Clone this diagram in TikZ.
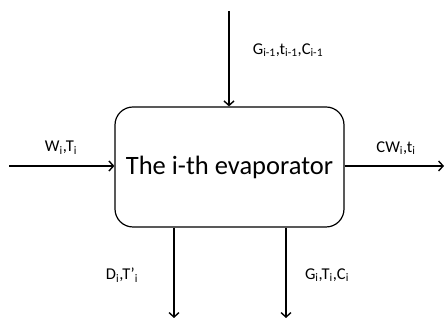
\documentclass[tikz,border=0pt]{standalone}
\usepackage{fontspec}
\setmainfont{Carlito}
\usetikzlibrary{arrows.meta}
\tikzset{
    flow/.style={line width=1.4pt, -{Straight Barb[length=4.5pt,width=10pt,line width=1.4pt]}},
    lbl/.style={font=\fontsize{16.5}{18}\selectfont, inner sep=0pt}
}
\begin{document}
\begin{tikzpicture}[x=1pt, y=1pt]
    \useasboundingbox (0,0) rectangle (445,320);

    % 蒸发器
    \node[draw, line width=1.2pt, rounded corners=18pt, minimum width=229pt, minimum height=120pt,
          font=\fontsize{26.5}{30}\selectfont] (evap) at (229.5,153) {The i-th evaporator};

    % 进出口端点
    \coordinate (topin) at (229,309);
    \coordinate (leftin) at (9,154);
    \coordinate (rightout) at (444,154);
    \coordinate (vapout) at (174,2);
    \coordinate (liqout) at (286,2);

    % 物流
    \draw[flow] (topin) -- (topin |- evap.north);
    \draw[flow] (leftin) -- (leftin -| evap.west);
    \draw[flow] (rightout -| evap.east) -- (rightout);
    \draw[flow] (vapout |- evap.south) -- (vapout);
    \draw[flow] (liqout |- evap.south) -- (liqout);

    % 标注
    \node[lbl] (gin) at (288,270) {G\textsubscript{i-1},t\textsubscript{i-1},C\textsubscript{i-1}};
    \node[lbl] (win) at (61,172) {W\textsubscript{i},T\textsubscript{i}};
    \node[lbl] (cwout) at (396,172) {CW\textsubscript{i},t\textsubscript{i}};
    \node[lbl] (dout) at (122,45) {D\textsubscript{i},T’\textsubscript{i}};
    \node[lbl] (gout) at (327,45) {G\textsubscript{i},T\textsubscript{i},C\textsubscript{i}};
\end{tikzpicture}
\end{document}
